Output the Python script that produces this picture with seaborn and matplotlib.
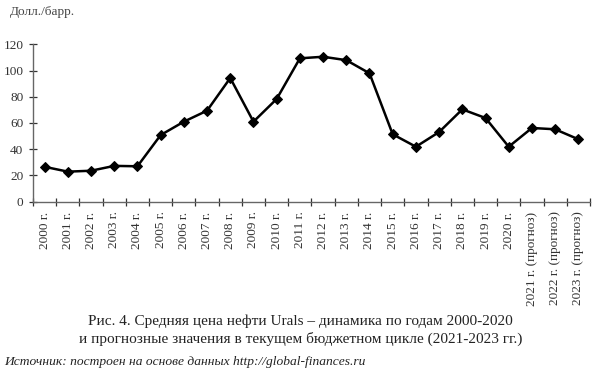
import matplotlib
matplotlib.use("Agg")
import matplotlib.pyplot as plt
import seaborn as sns
import numpy as np
import pandas as pd

categories = ["2000 г.", "2001 г.", "2002 г.", "2003 г.", "2004 г.", "2005 г.",
              "2006 г.", "2007 г.", "2008 г.", "2009 г.", "2010 г.", "2011 г.",
              "2012 г.", "2013 г.", "2014 г.", "2015 г.", "2016 г.", "2017 г.",
              "2018 г.", "2019 г.", "2020 г.", "2021 г. (прогноз)",
              "2022 г. (прогноз)", "2023 г. (прогноз)"]
prices = [26.6, 22.9, 23.6, 27.3, 27.0, 50.8, 61.0, 69.4, 94.3, 61.0, 78.3, 109.3,
          110.5, 107.9, 97.9, 51.4, 41.9, 53.1, 70.4, 63.8, 41.9, 56.2, 55.2, 47.6]
yticks = [0, 20, 40, 60, 80, 100, 120]
ylabel = "Долл./барр."
caption = ("Рис. 4. Средняя цена нефти Urals – динамика по годам 2000-2020\n"
           "и прогнозные значения в текущем бюджетном цикле (2021-2023 гг.)")
source = "Источник: построен на основе данных http://global-finances.ru"

sns.set_style("white")
plt.rcParams['font.family'] = ['Liberation Serif', 'DejaVu Serif']

df = pd.DataFrame({"pos": np.arange(len(categories)), "price": prices})

fig = plt.figure(figsize=(5.95, 3.76), dpi=100)
ax = fig.add_axes([0.0555, 0.4636, 0.936, 0.4186])
sns.lineplot(data=df, x="pos", y="price", ax=ax, color="black", linewidth=1.8,
             marker="D", markersize=5.5, markeredgecolor="black", sort=False)

ax.set_xlim(-0.5, len(categories) - 0.5)
ax.set_ylim(0, 120)
ax.set_yticks(yticks)
ax.set_yticklabels([str(v) for v in yticks], fontsize=9.5, color="#333333")
ax.set_xticks(np.arange(-0.5, len(categories)))
ax.set_xticklabels([])
ax.set_xticks(np.arange(len(categories)), minor=True)
ax.set_xticklabels(categories, minor=True, rotation=90, fontsize=9.5, color="#333333")
ax.tick_params(axis="x", which="major", bottom=True, direction="inout", length=6,
               width=0.9, color="#333333")
ax.tick_params(axis="x", which="minor", bottom=True, length=0, pad=7)
ax.tick_params(axis="y", which="major", left=True, direction="inout", length=6,
               width=0.9, color="#333333", pad=4)
ax.set_xlabel("")
ax.set_ylabel("")
for s in ["top", "right"]:
    ax.spines[s].set_visible(False)
for s in ["left", "bottom"]:
    ax.spines[s].set_color("#666666")
    ax.spines[s].set_linewidth(1.0)

fig.text(0.017, 0.968, ylabel, fontsize=9.5, color="#444444", va="center", ha="left")
fig.text(0.505, 0.121, caption, fontsize=11, color="#222222", ha="center",
         va="center", linespacing=1.35)
fig.text(0.007, 0.037, source, fontsize=9.7, style="italic", color="#222222",
         ha="left", va="center")

fig.savefig("out.png", dpi=100)
